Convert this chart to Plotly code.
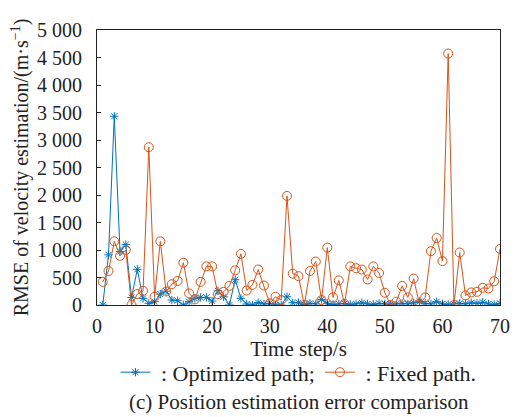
import plotly.graph_objects as go

time_steps = list(range(1, 71))

optimized_path = [0, 912, 3432, 972, 1098, 138, 648, 120, 30, 60,
                  198, 252, 90, 78, 0, 60, 120, 138, 138, 72,
                  258, 150, 0, 460, 120, 18, 0, 42, 18, 30,
                  0, 0, 150, 42, 42, 10, 30, 20, 100, 30,
                  10, 20, 30, 10, 20, 40, 20, 10, 30, 20,
                  10, 20, 30, 20, 40, 60, 30, 20, 60, 20,
                  10, 20, 30, 20, 40, 30, 50, 20, 10, 30]

fixed_path = [420, 618, 1158, 894, 1002, 0, 198, 258, 2868, 150,
              1158, 246, 378, 438, 768, 210, 102, 420, 702, 702,
              198, 240, 348, 630, 930, 264, 366, 645, 354, 30,
              150, 90, 1983, 570, 525, 0, 618, 790, 90, 1044,
              138, 447, 20, 702, 669, 645, 465, 702, 582, 222,
              0, 60, 348, 138, 480, 18, 138, 978, 1218, 798,
              4572, 0, 954, 174, 228, 240, 312, 300, 432, 1020]

x_ticks = [0, 10, 20, 30, 40, 50, 60, 70]
y_ticks = [0, 500, 1000, 1500, 2000, 2500, 3000, 3500, 4000, 4500, 5000]

FONT = "Liberation Serif, Times New Roman, serif"
INK = "#222"
BLUE = "#0072BD"
ORANGE = "#D95319"

fig = go.Figure()
fig.add_trace(go.Scatter(
    x=time_steps, y=optimized_path, mode="lines+markers",
    name=" : Optimized path;",
    line=dict(color=BLUE, width=1),
    marker=dict(symbol="asterisk-open", size=7, color=BLUE, line=dict(color=BLUE, width=1)),
))
fig.add_trace(go.Scatter(
    x=time_steps, y=fixed_path, mode="lines+markers",
    name=" : Fixed path.",
    line=dict(color=ORANGE, width=1),
    marker=dict(symbol="circle-open", size=9, color=ORANGE, line=dict(color=ORANGE, width=1)),
))

axis_common = dict(
    showgrid=False, zeroline=False, showline=True, linecolor=INK, linewidth=1.2,
    mirror=True, ticks="inside", ticklen=4, tickcolor=INK, tickwidth=1.2,
    tickfont=dict(family=FONT, size=20, color=INK),
)

fig.update_layout(
    width=513, height=409,
    margin=dict(l=85, r=11, t=19, b=112),
    paper_bgcolor="white", plot_bgcolor="white",
    font=dict(family=FONT, size=21, color=INK),
    separators=". ",
    showlegend=True,
    legend=dict(orientation="h", x=0.5, xanchor="center", y=-0.245, yanchor="middle",
                font=dict(family=FONT, size=22, color=INK),
                bgcolor="rgba(0,0,0,0)", tracegroupgap=0),
    xaxis=dict(range=[0, 70], tickvals=x_ticks, ticklabelstandoff=3,
               title=dict(text="Time step/s", standoff=4,
                          font=dict(family=FONT, size=21, color=INK)), **axis_common),
    yaxis=dict(range=[0, 5000], tickvals=y_ticks, separatethousands=True, ticklabelstandoff=10,
               title=dict(text="RMSE of velocity estimation/(m·s<sup>−1</sup>)", standoff=4,
                          font=dict(family=FONT, size=20, color=INK)), **axis_common),
    annotations=[dict(text="(c) Position estimation error comparison", xref="paper", yref="paper",
                      x=0.5, y=-0.3525, xanchor="center", yanchor="middle", showarrow=False,
                      font=dict(family=FONT, size=21, color=INK))],
)

fig.write_html("out.html")
